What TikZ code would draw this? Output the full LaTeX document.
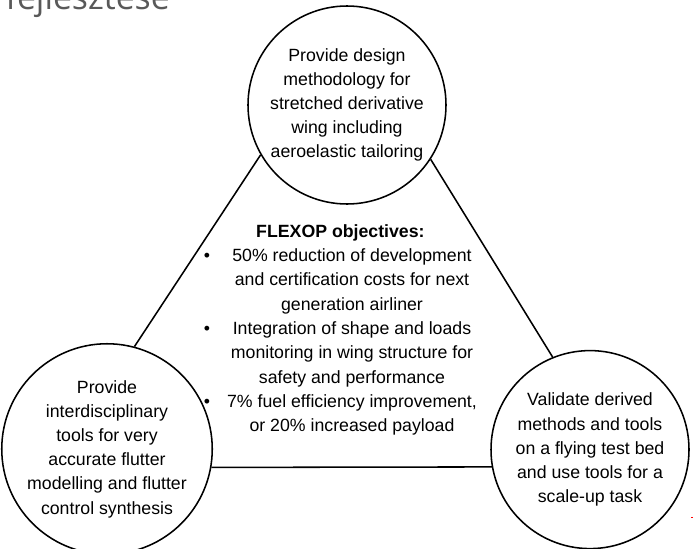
\documentclass[tikz,border=0pt]{standalone}
\usepackage{fontspec}
\setmainfont{Liberation Sans}
\newfontfamily\headfont{Open Sans}
\begin{document}
\begin{tikzpicture}[scale=1,
	goal/.style={draw,circle,line width=1.1pt,minimum size=4.95cm,inner sep=0pt,align=center,font=\fontsize{12.6}{17.2}\selectfont},
	link/.style={line width=1.1pt}]
		\useasboundingbox (0,0) rectangle (17.325,13.7);
		\node[anchor=base east,inner sep=0pt,text=black!65,font=\headfont\fontsize{24}{24}\selectfont] (title) at (4.25,13.45) {fejlesztése};
		\node[goal] (design) at (8.675,11.075) {Provide design\\methodology for\\stretched derivative\\wing including\\aeroelastic tailoring};
		\node[goal] (tools) at (2.675,2.475) {Provide\\interdisciplinary\\tools for very\\accurate flutter\\modelling and flutter\\control synthesis};
		\node[goal] (validate) at (14.75,2.46) {Validate derived\\methods and tools\\on a flying test bed\\and use tools for a\\scale-up task};
		%triangle
		\draw[link] (design.210) -- (tools.75);
		\draw[link] (design.327) -- (validate.112);
		\draw[link] (tools.-10) -- (validate.190);
		\node[inner sep=0pt,font=\fontsize{12.6}{17.3}\selectfont] (objectives) at (8.51,5.46) {%
			\begin{tabular}{@{}c@{\hspace{0.425cm}}c@{}}
				\multicolumn{2}{c}{\textbf{FLEXOP objectives:}}\\
				\textbullet & 50\% reduction of development\\
				& and certification costs for next\\
				& generation airliner\\
				\textbullet & Integration of shape and loads\\
				& monitoring in wing structure for\\
				& safety and performance\\
				\textbullet & 7\% fuel efficiency improvement,\\
				& or 20\% increased payload
			\end{tabular}};
		\fill[red] (17.28,0.74) rectangle (17.325,0.765);
\end{tikzpicture}
\end{document}
